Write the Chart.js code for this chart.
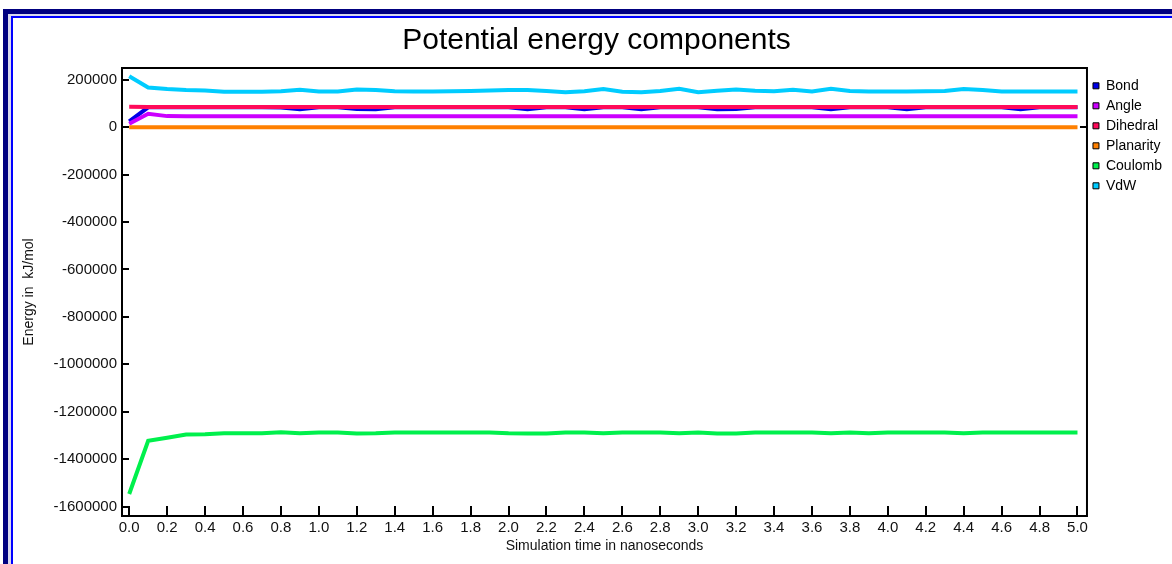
<!DOCTYPE html>
<html>
<head>
<meta charset="utf-8">
<title>Potential energy components</title>
<script src="https://cdn.jsdelivr.net/npm/chart.js@4/dist/chart.umd.min.js"></script>
<style>
  html, body { margin: 0; padding: 0; background: #fff; overflow: hidden; }
  .page { position: relative; width: 1172px; height: 564px; overflow: hidden; }
  /* double window border, cut off at right and bottom like in the screenshot */
  .frame {
    position: absolute; left: 3px; top: 9px; width: 1400px; height: 800px;
    border-left: 5px solid #000080; border-top: 5px solid #000080;
    background: #d8d8ee;
  }
  .frame .inner {
    position: absolute; left: 3px; top: 2px; right: 0; bottom: 0;
    border-left: 2px solid #0000ff; border-top: 2px solid #0000ff;
    background: #fff;
  }
  #energy-chart { position: absolute; left: 0; top: 0; }
</style>
</head>
<body>
<div class="page">
  <div class="frame"><div class="inner"></div></div>
  <canvas id="energy-chart" width="1172" height="564"></canvas>
</div>
<script>
// Simulation time (ns)
const timeNs = [
  0.0, 0.1, 0.2, 0.3, 0.4, 0.5, 0.6, 0.7, 0.8, 0.9,
  1.0, 1.1, 1.2, 1.3, 1.4, 1.5, 1.6, 1.7, 1.8, 1.9,
  2.0, 2.1, 2.2, 2.3, 2.4, 2.5, 2.6, 2.7, 2.8, 2.9,
  3.0, 3.1, 3.2, 3.3, 3.4, 3.5, 3.6, 3.7, 3.8, 3.9,
  4.0, 4.1, 4.2, 4.3, 4.4, 4.5, 4.6, 4.7, 4.8, 4.9,
  5.0
];

// Energy components (kJ/mol)
const bond = [
  24500, 84000, 84000, 84000, 84000, 84000, 84000, 84000, 83000, 76000,
  84000, 84000, 77000, 76000, 84000, 84000, 84000, 84000, 84000, 84000,
  84000, 76000, 84000, 84000, 76000, 84000, 84000, 76000, 84000, 84000,
  84000, 76000, 77000, 84000, 84000, 84000, 84000, 76000, 84000, 84000,
  84000, 76000, 84000, 84000, 84000, 84000, 84000, 76000, 84000, 84000,
  84000
];
const angle = [
  15000, 57000, 47000, 46000, 46000, 46000, 46000, 46000, 46000, 46000,
  46000, 46000, 46000, 46000, 46000, 46000, 46000, 46000, 46000, 46000,
  46000, 46000, 46000, 46000, 46000, 46000, 46000, 46000, 46000, 46000,
  46000, 46000, 46000, 46000, 46000, 46000, 46000, 46000, 46000, 46000,
  46000, 46000, 46000, 46000, 46000, 46000, 46000, 46000, 46000, 46000,
  46000
];
const dihedral = [
  86000, 85500, 85200, 85200, 85200, 85200, 85200, 85200, 85200, 85200,
  85200, 85200, 85200, 85200, 85200, 85200, 85200, 85200, 85200, 85200,
  85200, 85200, 85200, 85200, 85200, 85200, 85200, 85200, 85200, 85200,
  85200, 85200, 85200, 85200, 85200, 85200, 85200, 85200, 85200, 85200,
  85200, 85200, 85200, 85200, 85200, 85200, 85200, 85200, 85200, 85200,
  85200
];
const planarity = [
  300, 400, 300, 300, 300, 300, 300, 300, 300, 300,
  300, 300, 300, 300, 300, 300, 300, 300, 300, 300,
  300, 300, 300, 300, 300, 300, 300, 300, 300, 300,
  300, 300, 300, 300, 300, 300, 300, 300, 300, 300,
  300, 300, 300, 300, 300, 300, 300, 300, 300, 300,
  300
];
const coulomb = [
  -1547000, -1323000, -1310000, -1296000, -1295000, -1291000, -1291000, -1291000, -1287000, -1291000,
  -1288000, -1288000, -1292000, -1291000, -1288000, -1288000, -1288000, -1288000, -1288000, -1288000,
  -1291000, -1292000, -1292000, -1288000, -1288000, -1291000, -1288000, -1288000, -1288000, -1291000,
  -1288000, -1292000, -1292000, -1288000, -1288000, -1288000, -1288000, -1291000, -1288000, -1291000,
  -1288000, -1288000, -1288000, -1288000, -1291000, -1288000, -1288000, -1288000, -1288000, -1288000,
  -1288000
];
const vdw = [
  215000, 168000, 161000, 157000, 155000, 150000, 150000, 150000, 152000, 158000,
  151000, 151000, 159000, 157000, 152000, 151000, 151000, 152000, 153000, 155000,
  157000, 157000, 153000, 148000, 152000, 161000, 150000, 148000, 153000, 162000,
  148000, 154000, 159000, 154000, 152000, 158000, 151000, 162000, 153000, 151000,
  151000, 151000, 152000, 153000, 161000, 157000, 151000, 151000, 151000, 151000,
  151000
];

// Tick values on the energy axis
const energyTicks = [-1600000, -1400000, -1200000, -1000000, -800000, -600000, -400000, -200000, 0, 200000];

const seriesNames = ['Bond', 'Angle', 'Dihedral', 'Planarity', 'Coulomb', 'VdW'];
const seriesValues = [bond, angle, dihedral, planarity, coulomb, vdw];
const seriesColors = ['#0000e8', '#cc00ff', '#ff0a5a', '#ff8000', '#00f04c', '#00ccff'];

const FONT = '"Liberation Sans", Arial, Helvetica, sans-serif';
Chart.defaults.font.family = FONT;
Chart.defaults.color = '#111';

/**
 * Plot frame and inward tick marks
 */
const axisFramePlugin = {
  id: 'axisFrame',
  afterDatasetsDraw(chart) {
    const { ctx, chartArea: a, scales: { x, y } } = chart;
    ctx.save();
    ctx.strokeStyle = '#000';
    ctx.lineWidth = 2;
    ctx.strokeRect(a.left, a.top, a.right - a.left, a.bottom - a.top);
    ctx.beginPath();
    x.ticks.forEach(t => {
      const px = Math.round(x.getPixelForValue(t.value));
      ctx.moveTo(px, a.bottom);
      ctx.lineTo(px, a.bottom - 10);
    });
    y.ticks.forEach(t => {
      const py = Math.round(y.getPixelForValue(t.value));
      ctx.moveTo(a.left, py);
      ctx.lineTo(a.left + 7, py);
    });
    // zero mark on the right side
    const zero = Math.round(y.getPixelForValue(0));
    ctx.moveTo(a.right, zero);
    ctx.lineTo(a.right - 7, zero);
    ctx.stroke();
    ctx.restore();
  }
};

const baseLabels = Chart.defaults.plugins.legend.labels.generateLabels;

new Chart(document.getElementById('energy-chart'), {
  type: 'line',
  data: {
    datasets: seriesNames.map((name, i) => ({
      label: name,
      data: timeNs.map((t, j) => ({ x: t, y: seriesValues[i][j] })),
      borderColor: seriesColors[i],
      backgroundColor: seriesColors[i],
      borderWidth: 4,
      pointRadius: 0,
      tension: 0,
      fill: false,
      order: seriesNames.length - 1 - i
    }))
  },
  options: {
    responsive: false,
    animation: false,
    layout: { padding: { left: 21, right: 0, top: 10, bottom: 0 } },
    plugins: {
      title: {
        display: true,
        text: 'Potential energy components',
        color: '#000',
        font: { size: 30, weight: 'normal' },
        padding: { top: 13, bottom: 9 }
      },
      legend: {
        position: 'right',
        align: 'start',
        fullSize: false,
        title: { display: true, text: '', font: { size: 4 }, padding: 0 },
        labels: {
          boxWidth: 6,
          boxHeight: 6,
          padding: 6,
          color: '#000',
          font: { size: 14 },
          sort: (a, b) => a.datasetIndex - b.datasetIndex,
          generateLabels: chart => baseLabels(chart).map(item =>
            Object.assign(item, { lineWidth: 1, strokeStyle: '#000' }))
        }
      },
      tooltip: { enabled: false }
    },
    scales: {
      x: {
        type: 'linear',
        min: -0.038,
        max: 5.05,
        grid: { display: false, drawTicks: false },
        border: { display: false },
        ticks: {
          stepSize: 0.2,
          includeBounds: false,
          autoSkip: false,
          maxRotation: 0,
          padding: 3,
          font: { size: 15 },
          callback: v => v.toFixed(1)
        },
        title: {
          display: true,
          text: 'Simulation time in nanoseconds',
          font: { size: 14 },
          padding: { top: 0, bottom: 9 }
        },
        afterFit: scale => { scale.height = 48; }
      },
      y: {
        min: -1640000,
        max: 250000,
        grid: { display: false, drawTicks: false },
        border: { display: false },
        ticks: {
          padding: 5,
          font: { size: 15 },
          callback: v => String(v)
        },
        afterBuildTicks: scale => {
          scale.ticks = energyTicks.map(v => ({ value: v }));
        },
        title: {
          display: true,
          text: 'Energy in  kJ/mol',
          font: { size: 14 },
          padding: 0
        },
        afterFit: scale => { scale.width = 101; }
      }
    }
  },
  plugins: [axisFramePlugin]
});
</script>
</body>
</html>
